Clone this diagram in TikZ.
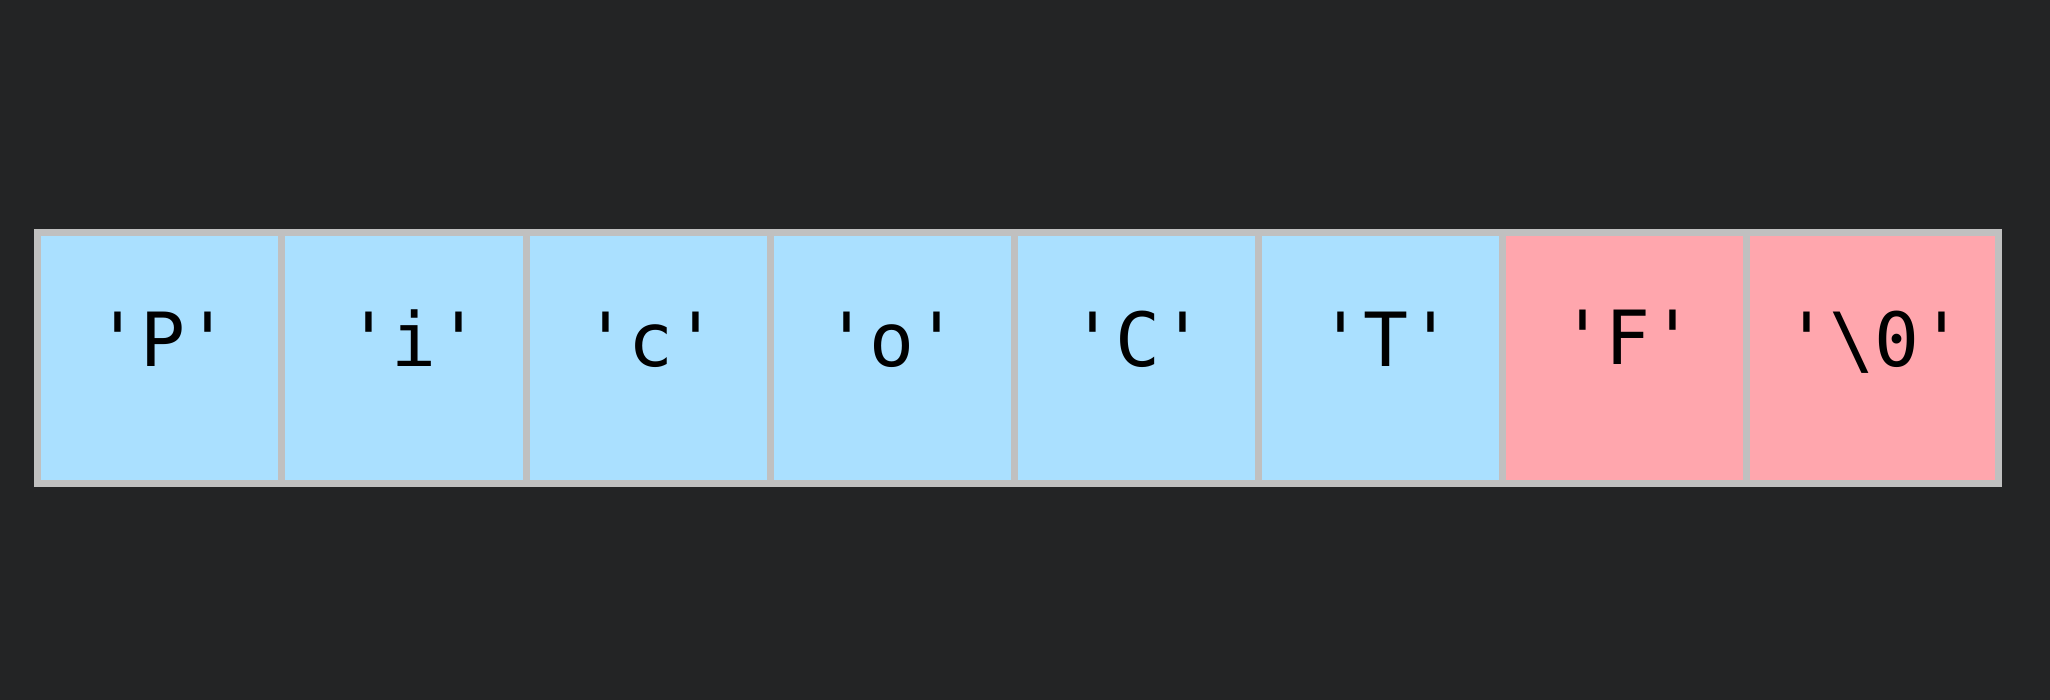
\documentclass[tikz,border=0pt]{standalone}
\usepackage{fontspec}
\newfontfamily\cellfont{DejaVu Sans Mono}
\definecolor{bgc}{HTML}{232425}
\definecolor{bluec}{HTML}{AAE0FF}
\definecolor{pinkc}{HTML}{FFA6AD}
\definecolor{edgec}{HTML}{C0C0C0}
\tikzset{
  cellbox/.style={draw=edgec, line width=7bp, rectangle, inner sep=0pt, minimum height=250.5bp},
  bluecell/.style={cellbox, fill=bluec},
  pinkcell/.style={cellbox, fill=pinkc},
  chartext/.style={anchor=base, inner sep=0pt, font=\cellfont\fontsize{75}{90}\selectfont, text=black}
}
\begin{document}
\begin{tikzpicture}[x=1bp,y=-1bp]
\fill[bgc] (0,0) rectangle (2050,700);
\useasboundingbox (0,0) rectangle (2050,700);
% cells
\node[bluecell, minimum width=244bp] (c1) at (159.5,357.75) {};
\node[bluecell, minimum width=244.5bp] (c2) at (403.75,357.75) {};
\node[bluecell, minimum width=244bp] (c3) at (648,357.75) {};
\node[bluecell, minimum width=244.5bp] (c4) at (892.25,357.75) {};
\node[bluecell, minimum width=244bp] (c5) at (1136.5,357.75) {};
\node[bluecell, minimum width=244bp] (c6) at (1380.5,357.75) {};
\node[pinkcell, minimum width=244bp] (c7) at (1624.5,357.75) {};
\node[pinkcell, minimum width=251.5bp] (c8) at (1872.25,357.75) {};
% texts
\node[chartext] (t1) at (163,366.7) {'P'};
\node[chartext] (t2) at (414,366.7) {'i'};
\node[chartext] (t3) at (651,366.7) {'c'};
\node[chartext] (t4) at (892,366.7) {'o'};
\node[chartext] (t5) at (1138,366.7) {'C'};
\node[chartext] (t6) at (1386,366.7) {'T'};
\node[chartext] (t7) at (1627.5,364) {'F'};
\node[chartext] (t8) at (1874.3,366.7) {'\textbackslash 0'};
\end{tikzpicture}
\end{document}
